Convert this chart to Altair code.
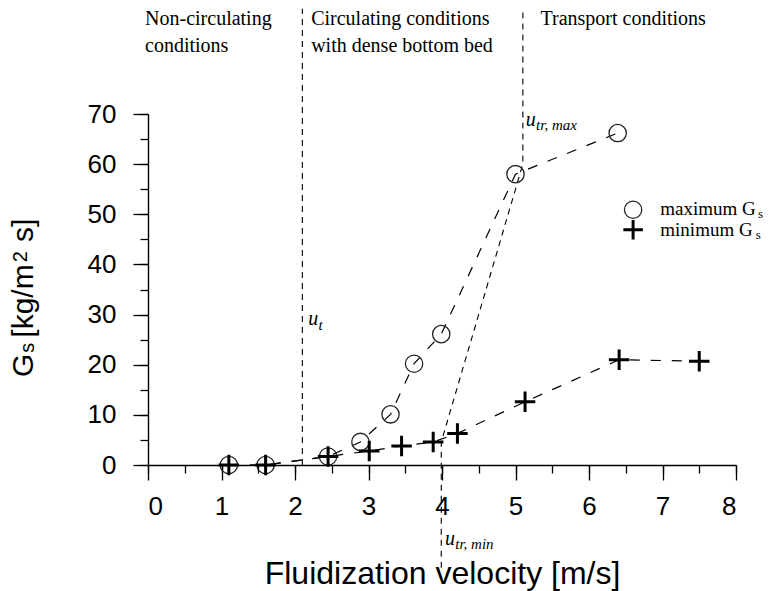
import altair as alt
import pandas as pd

# ---- data ----
max_x = [1.1, 1.6, 2.45, 2.89, 3.30, 3.62, 3.99, 5.0, 6.39]
max_y = [0.0, 0.0, 1.7, 4.6, 10.1, 20.2, 26.1, 58.0, 66.2]
min_x = [1.1, 1.6, 2.45, 3.01, 3.45, 3.88, 4.21, 5.13, 6.41, 7.5]
min_y = [0.0, 0.0, 1.7, 2.8, 3.8, 4.6, 6.3, 12.6, 21.0, 20.7]

ut_x = [2.1]
ut_y = [0.0]
ut_y2 = [91.0]
bnd_x = [3.99, 3.99, 5.1, 5.1]
bnd_y = [-20.5, 4.6, 60.0, 91.0]

x_ticks = [0, 1, 2, 3, 4, 5, 6, 7, 8]
x_minor = [0, 0.5, 1, 1.5, 2, 2.5, 3, 3.5, 4, 4.5, 5, 5.5, 6, 6.5, 7, 7.5, 8]
y_ticks = [0, 10, 20, 30, 40, 50, 60, 70]
y_minor = [0, 5, 10, 15, 20, 25, 30, 35, 40, 45, 50, 55, 60, 65, 70]

region_text = ["Non-circulating", "conditions", "Circulating conditions",
               "with dense bottom bed", "Transport conditions"]
region_x = [-0.04, -0.04, 2.22, 2.22, 5.34]
region_y = [87.8, 82.4, 87.8, 82.4, 87.8]

legend_text = ["maximum G", "minimum G"]
ytitle_text = ["G", "s", "[kg/m", "2", "s]"]

SANS = "Liberation Sans"
SERIF = "Liberation Serif"

xs = alt.Scale(domain=[0, 8], nice=False, zero=False)
ys = alt.Scale(domain=[0, 70], nice=False, zero=False)

xaxis = alt.Axis(values=x_ticks, tickSize=15, tickWidth=1.3, labelPadding=13,
                 labelFont=SANS, labelFontSize=26, labelColor="black", format="d",
                 domainColor="black", domainWidth=1.4, tickColor="black", grid=False,
                 title="Fluidization velocity [m/s]", titleFont=SANS, titleFontSize=32,
                 titleFontWeight="normal", titleColor="black",
                 titleBaseline="alphabetic", titleY=118)
yaxis = alt.Axis(values=y_ticks, tickSize=15, tickWidth=1.3, labelPadding=17,
                 labelFont=SANS, labelFontSize=26, labelColor="black", format="d",
                 domainColor="black", domainWidth=1.4, tickColor="black", grid=False,
                 title=None)

def X(f="x"):
    return alt.X(f + ":Q", scale=xs, axis=xaxis)

def Y(f="y"):
    return alt.Y(f + ":Q", scale=ys, axis=yaxis)

max_df = pd.DataFrame({"x": max_x, "y": max_y, "i": list(range(len(max_x)))})
min_df = pd.DataFrame({"x": min_x, "y": min_y, "i": list(range(len(min_x)))})
ut_df = pd.DataFrame({"x": ut_x, "y": ut_y, "y2": ut_y2})
bnd_df = pd.DataFrame({"x": bnd_x, "y": bnd_y, "i": list(range(len(bnd_x)))})
reg_df = pd.DataFrame({"x": region_x, "y": region_y, "t": region_text})

line_max = alt.Chart(max_df).mark_line(color="black", strokeWidth=1.2,
                                       strokeDash=[10, 11], clip=False).encode(
    x=X(), y=Y(), order="i:Q")
line_min = alt.Chart(min_df).mark_line(color="black", strokeWidth=1.2,
                                       strokeDash=[10, 11], clip=False).encode(
    x=X(), y=Y(), order="i:Q")
ut_rule = alt.Chart(ut_df).mark_rule(color="black", strokeWidth=1.1,
                                     strokeDash=[6, 5]).encode(
    x=X(), y=Y(), y2="y2:Q")
bnd_line = alt.Chart(bnd_df).mark_line(color="black", strokeWidth=1.1,
                                       strokeDash=[6, 5], clip=False).encode(
    x=X(), y=Y(), order="i:Q")

pts_max = alt.Chart(max_df).mark_point(shape="circle", filled=False, size=300,
                                       stroke="#222222", strokeWidth=1.3,
                                       opacity=1).encode(x=X(), y=Y())
pts_min = alt.Chart(min_df).mark_point(shape="M-1,0H1M0,-1V1", filled=False,
                                       size=420, stroke="black", strokeWidth=3,
                                       opacity=1).encode(x=X(), y=Y())

regions = alt.Chart(reg_df).mark_text(font=SERIF, fontSize=20, align="left",
                                      baseline="alphabetic", color="black").encode(
    x=X(), y=Y(), text="t:N")

# legend (manual, as in the figure)
leg_c = alt.Chart(pd.DataFrame({"x": [6.6], "y": [50.9]})).mark_point(
    shape="circle", filled=False, size=300, stroke="#222222", strokeWidth=1.3,
    opacity=1).encode(x=X(), y=Y())
leg_p = alt.Chart(pd.DataFrame({"x": [6.6], "y": [46.9]})).mark_point(
    shape="M-1,0H1M0,-1V1", filled=False, size=380, stroke="black", strokeWidth=3,
    opacity=1).encode(x=X(), y=Y())
leg_t = alt.Chart(pd.DataFrame({"x": [6.97, 6.97], "y": [49.9, 45.7],
                                "t": legend_text})).mark_text(
    font=SERIF, fontSize=19, align="left", baseline="alphabetic",
    color="black").encode(x=X(), y=Y(), text="t:N")
leg_s = alt.Chart(pd.DataFrame({"x": [8.3, 8.27], "y": [49.3, 45.1],
                                "t": ["s", "s"]})).mark_text(
    font=SERIF, fontSize=13, align="left", baseline="alphabetic",
    color="black").encode(x=X(), y=Y(), text="t:N")

# u labels
u_main = alt.Chart(pd.DataFrame({"x": [2.18, 5.14, 4.04], "y": [27.9, 67.6, -15.9],
                                 "t": ["u", "u", "u"]})).mark_text(
    font=SERIF, fontSize=20, fontStyle="italic", align="left",
    baseline="alphabetic", color="black").encode(x=X(), y=Y(), text="t:N")
u_sub = alt.Chart(pd.DataFrame({"x": [2.32, 5.28, 4.18], "y": [26.9, 66.8, -16.7],
                                "t": ["t", "tr, max", "tr, min"]})).mark_text(
    font=SERIF, fontSize=15, fontStyle="italic", align="left",
    baseline="alphabetic", color="black").encode(x=X(), y=Y(), text="t:N")

# y axis title  G_s [kg/m^2 s]  (rotated pieces)
yt_df = pd.DataFrame({"t": ytitle_text,
                      "py": [263, 238.7, 223.7, 148.3, 128],
                      "px": [-115, -114, -115, -121, -115],
                      "fs": [30, 20, 30, 20, 30]})
ytitle = alt.Chart(yt_df).mark_text(
    font=SANS, angle=270, align="left", baseline="alphabetic",
    color="black").encode(x=alt.X("px:Q", scale=None), y=alt.Y("py:Q", scale=None),
                          size=alt.Size("fs:Q", scale=None, legend=None),
                          text="t:N")

main = alt.layer(line_max, line_min, ut_rule, bnd_line, pts_max, pts_min, regions,
                 leg_c, leg_p, leg_t, leg_s, u_main, u_sub, ytitle)

minor = alt.Chart(max_df).mark_point(opacity=0).encode(
    x=alt.X("x:Q", scale=xs, axis=alt.Axis(values=x_minor, tickSize=8, tickWidth=1.3,
                                           tickColor="black", labels=False,
                                           domain=False, grid=False, title=None,
                                           orient="bottom")),
    y=alt.Y("y:Q", scale=ys, axis=alt.Axis(values=y_minor, tickSize=8, tickWidth=1.3,
                                           tickColor="black", labels=False,
                                           domain=False, grid=False, title=None,
                                           orient="left")))

chart = alt.layer(main, minor).resolve_scale(x="independent", y="independent").properties(
    width=588, height=351,
    autosize=alt.AutoSizeParams(type="none"),
    padding={"left": 148, "top": 114, "right": 43, "bottom": 126},
    background="white",
).configure_view(stroke=None)

chart.save("out.html", embed_options={"renderer": "svg", "actions": False})
